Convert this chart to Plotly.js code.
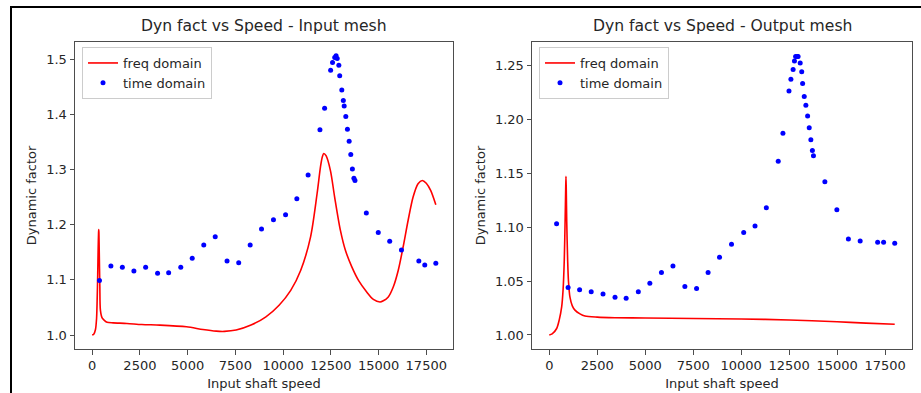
<!DOCTYPE html>
<html>
<head>
<meta charset="utf-8">
<script src="https://cdn.plot.ly/plotly-3.0.1.min.js"></script>
<style>
  html, body { margin: 0; padding: 0; background: #ffffff; }
  #chart { width: 921px; height: 393px; }
</style>
</head>
<body>
<div id="chart"></div>
<script>
// ---------- data ----------
const speedTime = [381, 980, 1580, 2185, 2800, 3425, 4005, 4640, 5240, 5845, 6445, 7065, 7675, 8275, 8870, 9495, 10130, 10720, 11310, 11930, 12175, 12490, 12590, 12705, 12775, 12835, 12920, 12965, 13075, 13155, 13200, 13285, 13370, 13460, 13545, 13630, 13710, 13765, 14360, 14985, 15585, 16200, 17110, 17420, 18000];

const inputTime = [1.099, 1.125, 1.123, 1.116, 1.123, 1.112, 1.113, 1.123, 1.139, 1.163, 1.178, 1.134, 1.131, 1.163, 1.192, 1.209, 1.218, 1.247, 1.290, 1.372, 1.411, 1.480, 1.494, 1.503, 1.506, 1.501, 1.489, 1.470, 1.444, 1.425, 1.415, 1.396, 1.373, 1.351, 1.327, 1.301, 1.284, 1.280, 1.221, 1.186, 1.170, 1.154, 1.134, 1.127, 1.130];

const outputTime = [1.103, 1.044, 1.042, 1.040, 1.038, 1.035, 1.034, 1.040, 1.048, 1.058, 1.064, 1.045, 1.043, 1.058, 1.072, 1.084, 1.095, 1.101, 1.118, 1.161, 1.187, 1.226, 1.237, 1.246, 1.254, 1.258, 1.258, 1.258, 1.252, 1.244, 1.233, 1.221, 1.213, 1.203, 1.192, 1.181, 1.171, 1.166, 1.142, 1.116, 1.089, 1.087, 1.086, 1.086, 1.085];

const inputFreqX = [0, 90, 172, 230, 260, 290, 315, 335, 343, 352, 370, 400, 431, 520, 650, 780, 1100, 1820, 2600, 3550, 4940, 5800, 6500, 6930, 7540, 8320, 9100, 9790, 10400, 10920, 11440, 11780, 11960, 12050, 12130, 12250, 12480, 12700, 13000, 13260, 13600, 13950, 14380, 14730, 15075, 15250, 15510, 15770, 16030, 16290, 16550, 16810, 17070, 17290, 17500, 17730, 18000];
const inputFreqY = [1.000, 1.002, 1.010, 1.030, 1.063, 1.110, 1.160, 1.186, 1.191, 1.186, 1.150, 1.090, 1.045, 1.031, 1.026, 1.023, 1.022, 1.021, 1.019, 1.018, 1.015, 1.010, 1.007, 1.0066, 1.009, 1.018, 1.033, 1.054, 1.081, 1.117, 1.178, 1.256, 1.305, 1.322, 1.329, 1.325, 1.298, 1.250, 1.190, 1.154, 1.1235, 1.099, 1.078, 1.0645, 1.060, 1.062, 1.069, 1.087, 1.117, 1.160, 1.208, 1.250, 1.274, 1.280, 1.275, 1.262, 1.236];

const outputFreqX = [0, 150, 385, 520, 646, 720, 781, 830, 855, 870, 885, 910, 958, 1000, 1078, 1200, 1339, 1600, 1860, 2500, 3420, 5000, 7500, 10000, 12500, 15000, 16500, 18000];
const outputFreqY = [1.000, 1.001, 1.006, 1.014, 1.026, 1.042, 1.069, 1.110, 1.135, 1.147, 1.135, 1.105, 1.069, 1.050, 1.035, 1.027, 1.023, 1.0195, 1.0175, 1.0165, 1.0160, 1.0157, 1.0153, 1.0148, 1.0139, 1.0122, 1.0110, 1.0099];

const xTicks = [0, 2500, 5000, 7500, 10000, 12500, 15000, 17500];
const yTicksInput = [1.0, 1.1, 1.2, 1.3, 1.4, 1.5];
const yTicksOutput = [1.00, 1.05, 1.10, 1.15, 1.20, 1.25];

const seriesNames = ['freq domain', 'time domain'];
const titles = ['Dyn fact vs Speed - Input mesh', 'Dyn fact vs Speed - Output mesh'];
const xLabel = 'Input shaft speed';
const yLabel = 'Dynamic factor';

// ---------- styling ----------
const FONT = 'DejaVu Sans, Liberation Sans, sans-serif';
const TXT = '#262626';
const AX = '#4d4d4d';

function xAxis(domain, anchor) {
  return {
    domain: domain, anchor: anchor,
    range: [-900, 18900],
    tickvals: xTicks, tickformat: 'd',
    ticks: 'outside', ticklen: 4.5, tickwidth: 1, tickcolor: AX,
    showline: true, mirror: true, linecolor: AX, linewidth: 1,
    showgrid: false, zeroline: false,
    tickfont: {family: FONT, size: 13, color: TXT},
    title: {text: xLabel, font: {family: FONT, size: 13, color: TXT}, standoff: 6}
  };
}
function yAxis(range, ticks, fmt, anchor) {
  return {
    anchor: anchor, domain: [0, 1],
    range: range,
    tickvals: ticks, tickformat: fmt,
    ticks: 'outside', ticklen: 4.5, tickwidth: 1, tickcolor: AX,
    showline: true, mirror: true, linecolor: AX, linewidth: 1,
    showgrid: false, zeroline: false,
    tickfont: {family: FONT, size: 13, color: TXT},
    title: {text: yLabel, font: {family: FONT, size: 13, color: TXT}, standoff: 6}
  };
}

const traces = [
  {x: inputFreqX, y: inputFreqY, type: 'scatter', mode: 'lines', name: seriesNames[0],
   line: {color: '#ff0000', width: 1.6, shape: 'spline', smoothing: 0.8}, xaxis: 'x', yaxis: 'y', legend: 'legend'},
  {x: speedTime, y: inputTime, type: 'scatter', mode: 'markers', name: seriesNames[1],
   marker: {color: '#0000ff', size: 5}, xaxis: 'x', yaxis: 'y', legend: 'legend'},
  {x: outputFreqX, y: outputFreqY, type: 'scatter', mode: 'lines', name: seriesNames[0],
   line: {color: '#ff0000', width: 1.6, shape: 'spline', smoothing: 0.8}, xaxis: 'x2', yaxis: 'y2', legend: 'legend2'},
  {x: speedTime, y: outputTime, type: 'scatter', mode: 'markers', name: seriesNames[1],
   marker: {color: '#0000ff', size: 5}, xaxis: 'x2', yaxis: 'y2', legend: 'legend2'}
];

const M = {l: 75, r: 9, t: 42, b: 44};
const W = 921, H = 393;
const pw = W - M.l - M.r, ph = H - M.t - M.b;
const px = v => (v - M.l) / pw;
const py = v => (H - M.b - v) / ph;

const legendStyle = {
  bgcolor: 'rgba(255,255,255,0.9)', bordercolor: '#cccccc', borderwidth: 1,
  font: {family: FONT, size: 13, color: TXT},
  xanchor: 'left', yanchor: 'top', tracegroupgap: 0
};

const layout = {
  width: W, height: H,
  margin: M,
  paper_bgcolor: '#ffffff', plot_bgcolor: '#ffffff',
  font: {family: FONT, color: TXT},
  showlegend: true,
  xaxis: xAxis([0, px(453)], 'y'),
  yaxis: yAxis([0.9747, 1.531], yTicksInput, '.1f', 'x'),
  xaxis2: xAxis([px(532), 1], 'y2'),
  yaxis2: yAxis([0.987, 1.2715], yTicksOutput, '.2f', 'x2'),
  legend: Object.assign({x: px(82), y: py(47)}, legendStyle),
  legend2: Object.assign({x: px(539), y: py(47)}, legendStyle),
  annotations: [
    {text: titles[0], xref: 'paper', yref: 'paper', x: px(264), y: py(26),
     xanchor: 'center', yanchor: 'middle', showarrow: false,
     font: {family: FONT, size: 15.6, color: TXT}},
    {text: titles[1], xref: 'paper', yref: 'paper', x: px(722), y: py(26),
     xanchor: 'center', yanchor: 'middle', showarrow: false,
     font: {family: FONT, size: 15.6, color: TXT}}
  ],
  shapes: [
    {type: 'line', xref: 'paper', yref: 'paper', x0: px(10), x1: px(921), y0: py(7), y1: py(7),
     line: {color: '#000000', width: 2}},
    {type: 'line', xref: 'paper', yref: 'paper', x0: px(11), x1: px(11), y0: py(6), y1: py(393),
     line: {color: '#000000', width: 2}}
  ]
};

Plotly.newPlot('chart', traces, layout, {displayModeBar: false, staticPlot: true});
</script>
</body>
</html>
